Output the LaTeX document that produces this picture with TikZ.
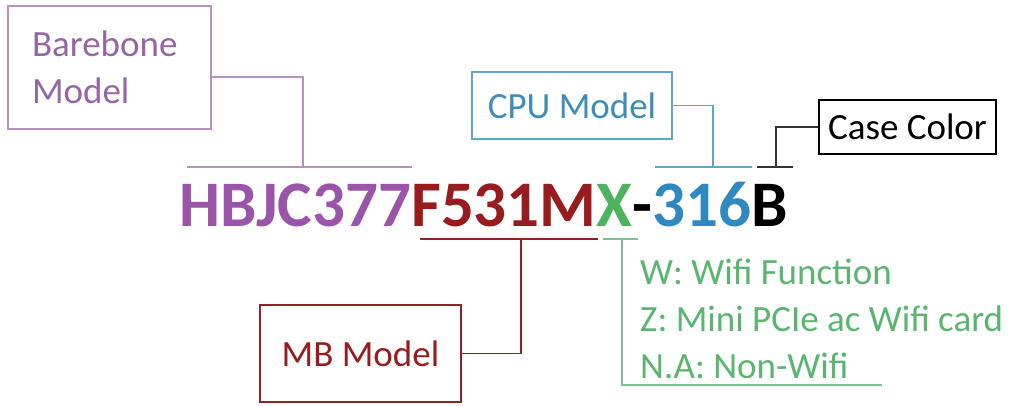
\documentclass[tikz,border=0pt]{standalone}
\usepackage{fontspec}
\setmainfont{Carlito}
\usetikzlibrary{positioning,calc}
\definecolor{bbcode}{HTML}{9B55A8}
\definecolor{bbline}{HTML}{B592C2}
\definecolor{bbtext}{HTML}{9466A3}
\definecolor{mbred}{HTML}{981B1E}
\definecolor{mbline}{HTML}{8E2326}
\definecolor{wfcode}{HTML}{4DB35E}
\definecolor{wfline}{HTML}{7CC290}
\definecolor{wftext}{HTML}{5AB56F}
\definecolor{cpucode}{HTML}{2F88C0}
\definecolor{cpuline}{HTML}{5CA8C6}
\definecolor{cputext}{HTML}{3E8DB8}
\definecolor{caseline}{HTML}{333333}
\tikzset{
  lbl/.style={draw, line width=1.8pt, inner sep=0pt,
    font=\fontsize{37}{47}\selectfont},
  code/.style={inner sep=0pt, outer sep=0pt, anchor=base west,
    font=\fontsize{65}{70}\selectfont\bfseries},
  bar/.style={line width=2.6pt},
  link/.style={line width=1.8pt},
  opt/.style={inner sep=0pt, anchor=base west, text=wftext,
    font=\fontsize{37}{47}\selectfont}
}

\begin{document}
\begin{tikzpicture}[x=1pt,y=-1pt]
  \useasboundingbox (0,0) rectangle (1019,405);
  % Model code
  \node[code, text=bbcode] (hbjc) at (179,226) {HBJC377};
  \node[code, text=mbred] (mbpart) at (hbjc.base east) {F531M};
  \node[code, text=wfcode] (xpart) at (mbpart.base east) {X};
  \node[code, text=black] (dash) at (xpart.base east) {-};
  \node[code, text=cpucode] (cpupart) at (dash.base east) {316};
  \node[code, text=black] (bpart) at (cpupart.base east) {B};
  % Barebone model
  \node[lbl, draw=bbline, text=bbtext, minimum width=203pt,
    minimum height=123pt, text width=155pt, inner xsep=24pt,
    align=left] (bare) at (109.5,67.5) {Barebone\\Model};
  \coordinate (bareL) at (187,167);
  \coordinate (bareR) at (412,167);
  \coordinate (bareTap) at (303,167);
  \draw[bar, bbline] (bareL) -- (bareR);
  \draw[link, bbline] ([yshift=-9.5pt]bare.east) -| (bareTap);
  % CPU model
  \node[lbl, draw=cpuline, text=cputext, minimum width=200pt,
    minimum height=67pt] (cpu) at (572,105.5) {CPU Model};
  \coordinate (cpuL) at (655,167);
  \coordinate (cpuR) at (752,167);
  \coordinate (cpuTap) at (713,167);
  \draw[bar, cpuline] (cpuL) -- (cpuR);
  \draw[link, cpuline] (cpu.east) -| (cpuTap);
  % Case color
  \node[lbl, draw=black, text=black, minimum width=177pt,
    minimum height=54pt] (case) at (907.5,127) {Case Color};
  \coordinate (caseL) at (757,167);
  \coordinate (caseR) at (793,167);
  \coordinate (caseTap) at (776,167);
  \draw[bar, caseline] (caseL) -- (caseR);
  \draw[link, caseline] (case.west) -| (caseTap);
  % MB model
  \node[lbl, draw=mbline, text=mbred, minimum width=201pt,
    minimum height=97pt] (mbbox) at (360.5,353.5) {MB Model};
  \coordinate (mbL) at (420,239);
  \coordinate (mbR) at (598,239);
  \coordinate (mbTap) at (521,239);
  \draw[bar, mbline] (mbL) -- (mbR);
  \draw[link, mbline] (mbbox.east) -| (mbTap);
  % Wifi options
  \coordinate (wfL) at (603,239);
  \coordinate (wfR) at (638,239);
  \coordinate (wfTap) at (622,239);
  \coordinate (wfEnd) at (882,385);
  \draw[bar, wfline] (wfL) -- (wfR);
  \draw[link, wfline] (wfTap) |- (wfEnd);
  \node[opt] (optW) at (640,284) {W: Wifi Function};
  \node[opt] (optZ) at (640,331) {Z: Mini PCIe ac Wifi card};
  \node[opt] (optN) at (640,378) {N.A: Non-Wifi};
\end{tikzpicture}
\end{document}
